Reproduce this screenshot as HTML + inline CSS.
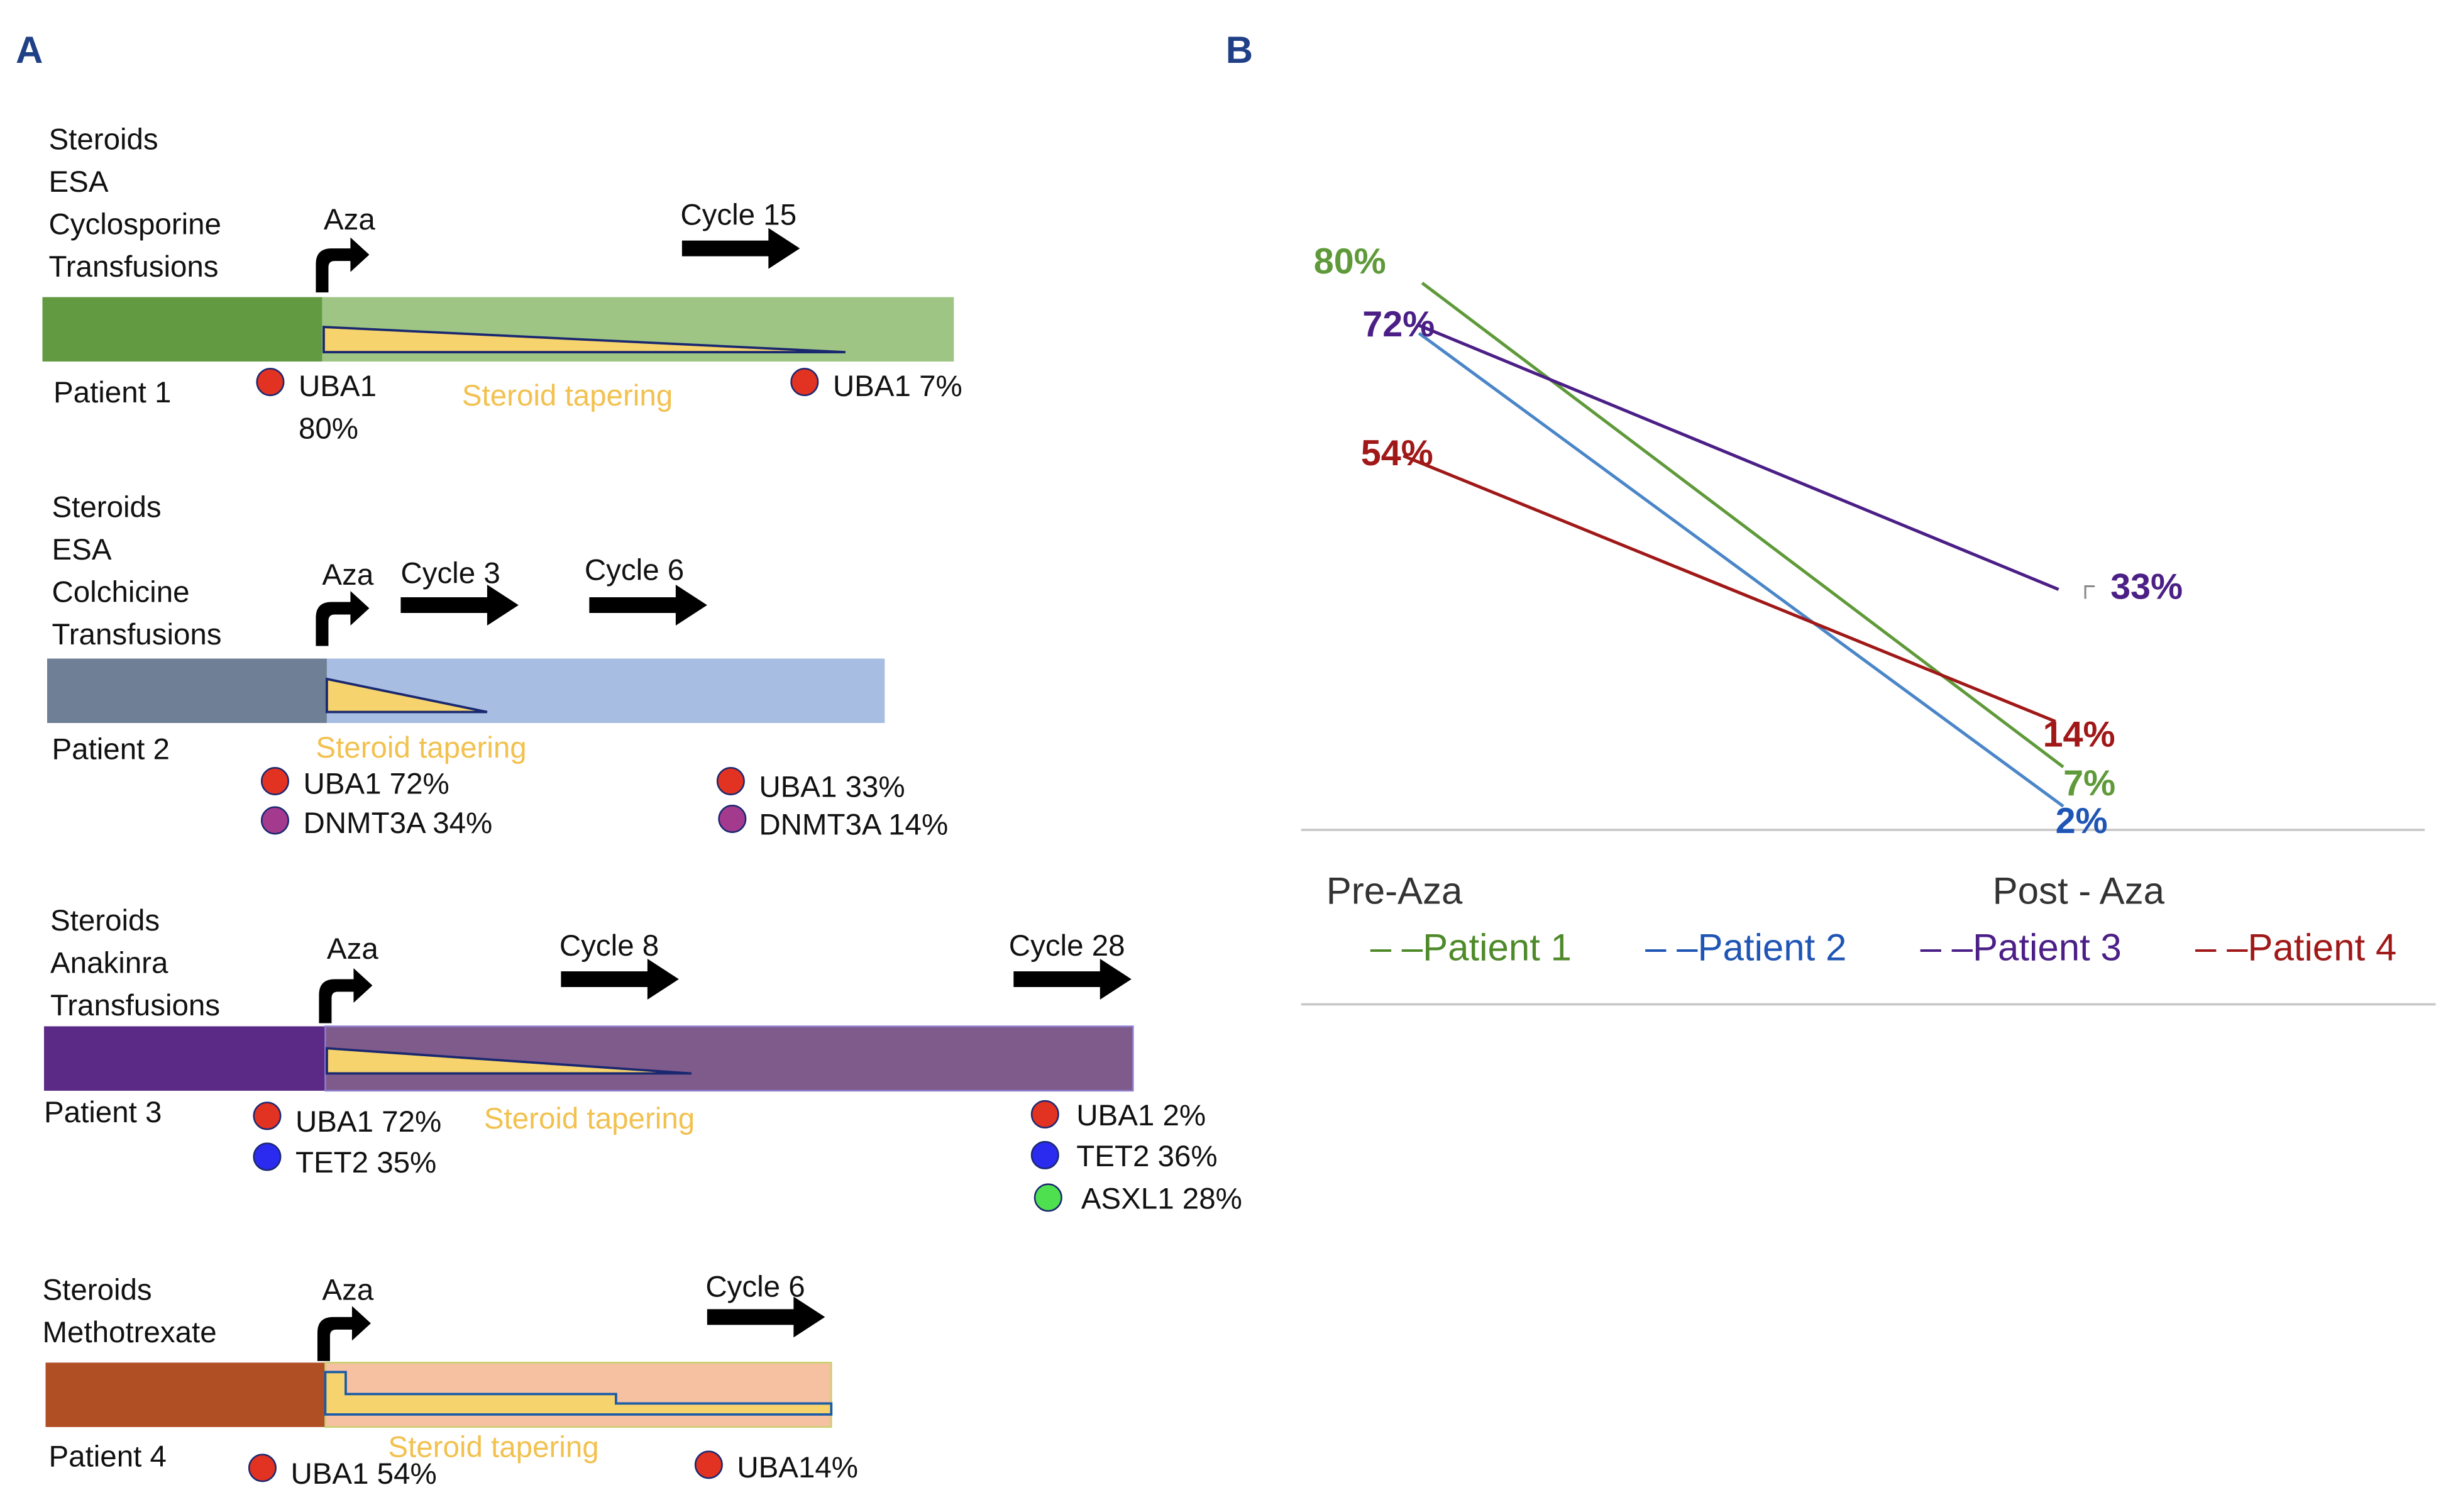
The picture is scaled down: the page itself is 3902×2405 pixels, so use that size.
<!DOCTYPE html>
<html><head><meta charset="utf-8"><style>html,body{margin:0;padding:0;background:#fff}svg{display:block}</style></head>
<body>
<svg width="3902" height="2405" viewBox="0 0 1561 962" xmlns="http://www.w3.org/2000/svg" font-family="Liberation Sans, sans-serif" font-size="19" fill="#111">
<defs>
<g id="arr"><path d="M0,-5 H55 V-13 L75,0 L55,13 V5 H0 Z" fill="#000"/></g>
<g id="bent"><path d="M-4,0 V-18 Q-4,-28 6,-28 H18 V-35 L30,-24 L18,-13 V-20 H8 Q4,-20 4,-16 V0 Z" fill="#000"/></g>
</defs>
<text x="10" y="40" font-size="24" font-weight="bold" fill="#1f3f86">A</text>
<text x="780" y="40" font-size="24" font-weight="bold" fill="#1f3f86">B</text>

<!-- Patient 1 -->
<text x="31" y="95">Steroids</text><text x="31" y="122">ESA</text><text x="31" y="149">Cyclosporine</text><text x="31" y="176">Transfusions</text>
<text x="206" y="146">Aza</text>
<use href="#bent" x="205" y="186"/>
<text x="433" y="143">Cycle 15</text>
<use href="#arr" x="434" y="158"/>
<rect x="27" y="189" width="178" height="41" fill="#629a42"/>
<rect x="205" y="189" width="402" height="41" fill="#9ec584"/>
<path d="M206,208 L538,224 L206,224 Z" fill="#f6d36c" stroke="#1a2870" stroke-width="1.5"/>
<text x="34" y="256">Patient 1</text>
<circle cx="172" cy="243" r="8.5" fill="#e23222" stroke="#1a2870"/>
<text x="190" y="252">UBA1</text><text x="190" y="279">80%</text>
<text x="294" y="258" fill="#f2c14e">Steroid tapering</text>
<circle cx="512" cy="243" r="8.5" fill="#e23222" stroke="#1a2870"/>
<text x="530" y="252">UBA1 7%</text>

<!-- Patient 2 -->
<text x="33" y="329">Steroids</text><text x="33" y="356">ESA</text><text x="33" y="383">Colchicine</text><text x="33" y="410">Transfusions</text>
<text x="205" y="372">Aza</text>
<use href="#bent" x="205" y="411"/>
<text x="255" y="371">Cycle 3</text>
<use href="#arr" x="255" y="385"/>
<text x="372" y="369">Cycle 6</text>
<use href="#arr" x="375" y="385"/>
<rect x="30" y="419" width="178" height="41" fill="#6e7f96"/>
<rect x="208" y="419" width="355" height="41" fill="#a8bde2"/>
<path d="M208,432 L310,453 L208,453 Z" fill="#f6d36c" stroke="#1a2870" stroke-width="1.5"/>
<text x="33" y="483">Patient 2</text>
<text x="201" y="482" fill="#f2c14e">Steroid tapering</text>
<circle cx="175" cy="497" r="8.5" fill="#e23222" stroke="#1a2870"/>
<circle cx="175" cy="522" r="8.5" fill="#a33a8e" stroke="#1a2870"/>
<text x="193" y="505">UBA1 72%</text><text x="193" y="530">DNMT3A 34%</text>
<circle cx="465" cy="497" r="8.5" fill="#e23222" stroke="#1a2870"/>
<circle cx="466" cy="521" r="8.5" fill="#a33a8e" stroke="#1a2870"/>
<text x="483" y="507">UBA1 33%</text><text x="483" y="531">DNMT3A 14%</text>

<!-- Patient 3 -->
<text x="32" y="592">Steroids</text><text x="32" y="619">Anakinra</text><text x="32" y="646">Transfusions</text>
<text x="208" y="610">Aza</text>
<use href="#bent" x="207" y="651"/>
<text x="356" y="608">Cycle 8</text>
<use href="#arr" x="357" y="623"/>
<text x="642" y="608">Cycle 28</text>
<use href="#arr" x="645" y="623"/>
<rect x="28" y="653" width="179" height="41" fill="#5b2a86"/>
<rect x="207" y="653" width="514" height="41" fill="#7f5b8b" stroke="#8f7fcf" stroke-width="1"/>
<path d="M208,667 L440,683 L208,683 Z" fill="#f6d36c" stroke="#1a2870" stroke-width="1.5"/>
<text x="28" y="714">Patient 3</text>
<circle cx="170" cy="710" r="8.5" fill="#e23222" stroke="#1a2870"/>
<circle cx="170" cy="736" r="8.5" fill="#2b2bf0" stroke="#1a2870"/>
<text x="188" y="720">UBA1 72%</text><text x="188" y="746">TET2  35%</text>
<text x="308" y="718" fill="#f2c14e">Steroid tapering</text>
<circle cx="665" cy="709" r="8.5" fill="#e23222" stroke="#1a2870"/>
<circle cx="665" cy="735" r="8.5" fill="#2b2bf0" stroke="#1a2870"/>
<circle cx="667" cy="762" r="8.5" fill="#4ee04e" stroke="#1a2870"/>
<text x="685" y="716">UBA1 2%</text><text x="685" y="742">TET2  36%</text><text x="688" y="769">ASXL1 28%</text>

<!-- Patient 4 -->
<text x="27" y="827">Steroids</text><text x="27" y="854">Methotrexate</text>
<text x="205" y="827">Aza</text>
<use href="#bent" x="206" y="866"/>
<text x="449" y="825">Cycle 6</text>
<use href="#arr" x="450" y="838"/>
<rect x="29" y="867" width="178" height="41" fill="#b04e24"/>
<rect x="207" y="867" width="322" height="41" fill="#f5c1a1" stroke="#c8d070" stroke-width="1"/>
<path d="M207,873 H220 V887 H392 V893 H529 V900 H207 Z" fill="#f6d36c" stroke="#1a5ca8" stroke-width="1.5"/>
<text x="31" y="933">Patient 4</text>
<text x="247" y="927" fill="#f2c14e">Steroid tapering</text>
<circle cx="167" cy="934" r="8.5" fill="#e23222" stroke="#1a2870"/>
<text x="185" y="944">UBA1 54%</text>
<circle cx="451" cy="932" r="8.5" fill="#e23222" stroke="#1a2870"/>
<text x="469" y="940">UBA14%</text>

<!-- Panel B -->
<line x1="828" y1="528" x2="1543" y2="528" stroke="#c8c8c8" stroke-width="1.5"/>
<line x1="828" y1="639" x2="1550" y2="639" stroke="#c8c8c8" stroke-width="1.5"/>
<line x1="905" y1="180" x2="1313" y2="488" stroke="#5f9a3a" stroke-width="2"/>
<line x1="903" y1="212" x2="1313" y2="513" stroke="#4a86c8" stroke-width="2"/>
<line x1="903" y1="207" x2="1310" y2="375" stroke="#4b1f86" stroke-width="2"/>
<line x1="893" y1="290" x2="1308" y2="459" stroke="#a01818" stroke-width="2"/>
<g font-size="23" font-weight="bold">
<text x="836" y="174" fill="#5f9a3a">80%</text>
<text x="867" y="214" fill="#4b1f86">72%</text>
<text x="866" y="296" fill="#a01818">54%</text>
<text x="1343" y="381" fill="#4b1f86">33%</text>
<text x="1300" y="475" fill="#a01818">14%</text>
<text x="1313" y="506" fill="#5f9a3a">7%</text>
<text x="1308" y="530" fill="#1f55b5">2%</text>
</g>
<path d="M1327,381 V373 H1333" stroke="#888" stroke-width="1.2" fill="none"/>
<g font-size="24">
<text x="844" y="575" fill="#333">Pre-Aza</text>
<text x="1268" y="575" fill="#333">Post - Aza</text>
<text x="872" y="611" fill="#4f8a2a">–  –Patient 1</text>
<text x="1047" y="611" fill="#1f55b5">–  –Patient 2</text>
<text x="1222" y="611" fill="#4b1f86">–  –Patient 3</text>
<text x="1397" y="611" fill="#a01818">–  –Patient 4</text>
</g>
</svg>
</body></html>
